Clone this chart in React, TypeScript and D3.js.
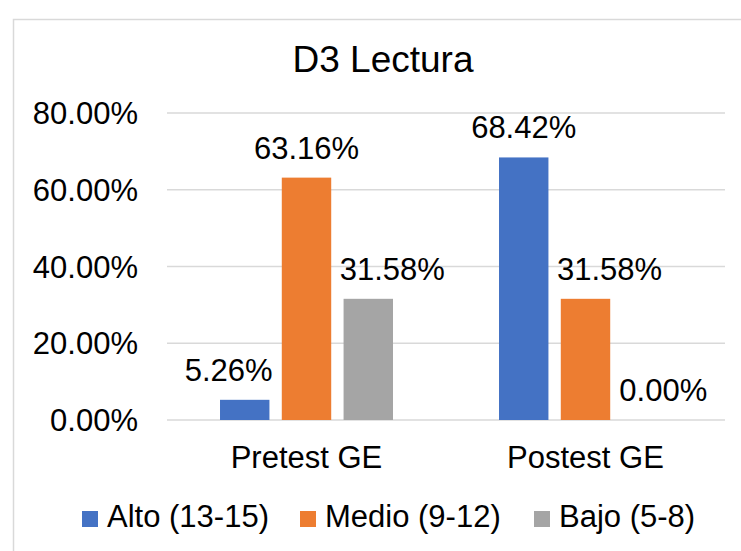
import React from "react";
import * as d3 from "d3";

const categories = ["Pretest GE", "Postest GE"];
const seriesNames = ["Alto (13-15)", "Medio (9-12)", "Bajo (5-8)"];
const alto = [5.26, 68.42];
const medio = [63.16, 31.58];
const bajo = [31.58, 0.0];
const yTicks = [0, 20, 40, 60, 80];

const colors = ["#4472C4", "#ED7D31", "#A5A5A5"];
// label nudges (layout only), per series per category
const labelDx = [
  [-16, 0],
  [0, 24],
  [24, 16],
];

export default function App() {
  const W = 741, H = 551;
  const left = 167, right = 725, top = 113, bottom = 420;
  const seriesValues = [alto, medio, bajo];
  const font = "'Liberation Sans', Arial, sans-serif";

  const x0 = d3.scaleBand<string>().domain(categories).range([left, right]).paddingInner(0.38).paddingOuter(0.19);
  const x1 = d3.scaleBand<string>().domain(seriesNames).range([0, x0.bandwidth()]).paddingInner(0.2);
  const y = d3.scaleLinear().domain([0, 80]).range([bottom, top]);

  const legendX = [82, 300, 534];

  return (
    <svg width={W} height={H} style={{ position: "absolute", left: 0, top: 0 }} fontFamily={font}>
      <rect x={0} y={0} width={W} height={H} fill="#fff" />
      <rect x={13.5} y={19.5} width={900} height={700} fill="#fff" stroke="#D9D9D9" strokeWidth={1.5} />
      <text x={383} y={72} textAnchor="middle" fontSize={37} fill="#000">D3 Lectura</text>
      {yTicks.map((t) => (
        <g key={t}>
          <line x1={left} x2={right} y1={y(t)} y2={y(t)} stroke="#D9D9D9" strokeWidth={1.5} />
          <text x={138} y={y(t) + 11} textAnchor="end" fontSize={31} fill="#000">{t.toFixed(2)}%</text>
        </g>
      ))}
      {seriesValues.map((vals, si) =>
        categories.map((c, ci) => {
          const v = vals[ci];
          const bx = (x0(c) as number) + (x1(seriesNames[si]) as number);
          const bw = x1.bandwidth();
          return (
            <g key={si + "-" + ci}>
              {v > 0 && <rect x={bx} y={y(v)} width={bw} height={y(0) - y(v)} fill={colors[si]} />}
              <text x={bx + bw / 2 + labelDx[si][ci]} y={y(v) - 19} textAnchor="middle" fontSize={31} fill="#000">
                {v.toFixed(2)}%
              </text>
            </g>
          );
        })
      )}
      {categories.map((c) => (
        <text key={c} x={(x0(c) as number) + x0.bandwidth() / 2} y={468} textAnchor="middle" fontSize={31} fill="#000">{c}</text>
      ))}
      {seriesNames.map((s, i) => (
        <g key={s}>
          <rect x={legendX[i]} y={511} width={16} height={16} fill={colors[i]} />
          <text x={legendX[i] + 25} y={527} fontSize={31} fill="#000">{s}</text>
        </g>
      ))}
    </svg>
  );
}
